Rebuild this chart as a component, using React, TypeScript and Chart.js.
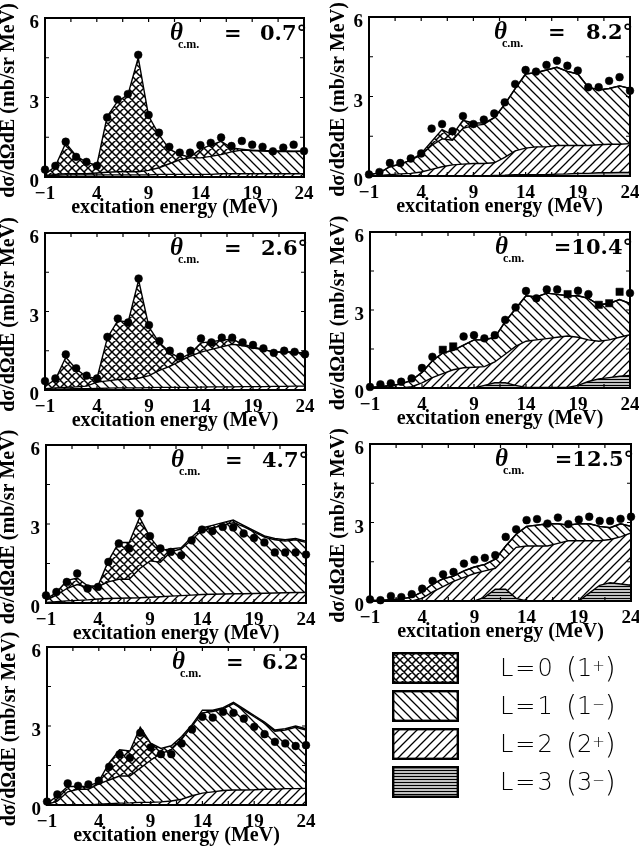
import React, { useEffect, useRef } from "react";
import { Chart, registerables } from "chart.js";
Chart.register(...registerables);

const PAGE_W = 639;
const PAGE_H = 850;

// excitation energies (MeV) of every point / curve vertex
const energies = [-1, 0, 1, 2, 3, 4, 5, 6, 7, 8, 9, 10, 11, 12, 13, 14, 15, 16, 17, 18, 19, 20, 21, 22, 23, 24];
const xTickLabels = [-1, 4, 9, 14, 19, 24];
const xTickMarks = [-1, 1.5, 4, 6.5, 9, 11.5, 14, 16.5, 19, 21.5, 24];
const yTickLabels = [0, 3, 6];
const yTickMarks = [1.5, 3, 4.5];

// ---- theta = 0.7 deg ----
const points07 = [0.28, 0.42, 1.33, 0.76, 0.57, 0.42, 2.25, 2.93, 3.13, 4.61, 2.34, 1.67, 1.14, 0.92, 0.92, 1.2, 1.29, 1.49, 1.17, 1.36, 1.22, 1.14, 0.97, 1.11, 1.22, 0.98];
const total07 = [0.1, 0.4, 1.28, 0.8, 0.55, 0.45, 2.28, 2.85, 3.1, 4.5, 2.3, 1.6, 1.05, 0.85, 0.75, 1.05, 1.2, 1.35, 1.1, 1.05, 1.0, 1.0, 0.98, 0.98, 0.97, 0.97];
const l1Top07 = [0.05, 0.1, 0.12, 0.12, 0.12, 0.15, 0.18, 0.2, 0.2, 0.2, 0.25, 0.35, 0.5, 0.65, 0.72, 0.72, 0.78, 0.85, 0.95, 1.02, 1.0, 0.98, 0.96, 0.96, 0.96, 0.97];
const l2Top07 = [0.03, 0.06, 0.08, 0.08, 0.08, 0.08, 0.08, 0.08, 0.08, 0.08, 0.08, 0.1, 0.1, 0.1, 0.1, 0.1, 0.1, 0.12, 0.12, 0.12, 0.12, 0.12, 0.12, 0.12, 0.12, 0.12];
const l3Top07 = [0, 0, 0, 0, 0, 0, 0, 0, 0, 0, 0, 0, 0, 0, 0, 0, 0, 0, 0, 0, 0, 0, 0, 0, 0, 0];

// ---- theta = 8.2 deg ----
const points82 = [0.06, 0.15, 0.49, 0.49, 0.66, 0.85, 1.79, 1.96, 1.69, 2.26, 1.96, 2.13, 2.36, 2.78, 3.47, 4.0, 3.94, 4.19, 4.35, 4.16, 3.98, 3.35, 3.35, 3.59, 3.73, 3.22];
const total82 = [0.05, 0.12, 0.35, 0.45, 0.6, 0.85, 1.3, 1.75, 1.55, 2.1, 2.0, 2.0, 2.2, 2.7, 3.3, 3.85, 3.9, 4.0, 4.1, 3.95, 3.85, 3.35, 3.25, 3.3, 3.4, 3.3];
const l1Top82 = [0.05, 0.12, 0.35, 0.45, 0.6, 0.8, 1.15, 1.4, 1.35, 1.8, 1.9, 1.95, 2.2, 2.7, 3.3, 3.85, 3.9, 4.0, 4.1, 3.95, 3.85, 3.35, 3.25, 3.3, 3.4, 3.3];
const l2Top82 = [0.0, 0.02, 0.05, 0.08, 0.1, 0.15, 0.25, 0.35, 0.42, 0.45, 0.47, 0.47, 0.5, 0.7, 0.95, 1.05, 1.1, 1.1, 1.15, 1.15, 1.15, 1.15, 1.18, 1.2, 1.2, 1.22];
const l3Top82 = [0, 0, 0, 0, 0, 0, 0, 0, 0, 0, 0, 0, 0.02, 0.03, 0.05, 0.05, 0.05, 0.05, 0.07, 0.08, 0.1, 0.1, 0.12, 0.12, 0.13, 0.13];

// ---- theta = 2.6 deg ----
const points26 = [0.34, 0.44, 1.36, 0.83, 0.55, 0.44, 2.03, 2.73, 2.58, 4.26, 2.48, 1.87, 1.5, 1.27, 1.5, 1.97, 1.82, 2.0, 2.0, 1.82, 1.72, 1.59, 1.42, 1.5, 1.46, 1.37];
const total26 = [0.15, 0.4, 1.25, 0.8, 0.5, 0.45, 2.0, 2.65, 2.6, 4.2, 2.4, 1.8, 1.45, 1.2, 1.4, 1.8, 1.85, 1.9, 1.95, 1.75, 1.65, 1.55, 1.45, 1.45, 1.45, 1.4];
const l1Top26 = [0.05, 0.08, 0.1, 0.12, 0.15, 0.3, 0.35, 0.4, 0.4, 0.45, 0.55, 0.75, 0.9, 1.1, 1.3, 1.45, 1.55, 1.65, 1.75, 1.7, 1.6, 1.55, 1.45, 1.45, 1.45, 1.4];
const l2Top26 = [0.02, 0.03, 0.04, 0.05, 0.05, 0.06, 0.07, 0.08, 0.08, 0.08, 0.09, 0.1, 0.1, 0.1, 0.1, 0.11, 0.12, 0.12, 0.12, 0.13, 0.13, 0.13, 0.14, 0.14, 0.15, 0.15];
const l3Top26 = [0, 0, 0, 0, 0, 0, 0, 0, 0, 0, 0, 0, 0, 0, 0, 0, 0, 0, 0, 0, 0, 0, 0, 0, 0, 0];

// ---- theta = 10.4 deg ----
const points104 = [0.04, 0.14, 0.18, 0.24, 0.37, 0.77, 1.2, 1.47, 1.6, 1.98, 2.03, 1.91, 2.03, 2.62, 3.1, 3.73, 3.45, 3.79, 3.79, 3.61, 3.74, 3.61, 3.2, 3.26, 3.7, 3.65];
const markers104 = ["c", "c", "c", "c", "c", "c", "c", "s", "s", "c", "c", "c", "c", "c", "c", "c", "c", "c", "c", "s", "c", "c", "s", "s", "s", "c"];
const total104 = [0.02, 0.05, 0.1, 0.15, 0.3, 0.6, 1.05, 1.35, 1.45, 1.65, 1.85, 1.85, 1.95, 2.55, 3.05, 3.55, 3.5, 3.65, 3.6, 3.55, 3.55, 3.45, 3.2, 3.25, 3.4, 3.25];
const l1Top104 = [0.02, 0.05, 0.1, 0.15, 0.3, 0.6, 1.05, 1.35, 1.45, 1.65, 1.85, 1.85, 1.95, 2.55, 3.05, 3.55, 3.5, 3.65, 3.6, 3.55, 3.55, 3.45, 3.2, 3.25, 3.4, 3.25];
const l2Top104 = [0, 0, 0, 0, 0.05, 0.2, 0.4, 0.55, 0.7, 0.78, 0.8, 0.82, 1.0, 1.3, 1.6, 1.8, 1.85, 1.9, 1.95, 2.0, 1.95, 1.85, 1.8, 1.85, 1.95, 2.05];
const l3Top104 = [0, 0, 0, 0, 0, 0, 0, 0, 0, 0, 0, 0.1, 0.2, 0.2, 0.1, 0.02, 0.02, 0.02, 0.02, 0.02, 0.1, 0.25, 0.35, 0.4, 0.45, 0.48];

// ---- theta = 4.7 deg ----
const points47 = [0.29, 0.42, 0.8, 1.12, 0.55, 0.61, 1.56, 2.26, 2.07, 3.4, 2.54, 2.07, 1.94, 1.81, 2.38, 2.79, 2.73, 2.89, 2.87, 2.64, 2.47, 2.3, 1.92, 1.92, 1.92, 1.84];
const total47 = [0.15, 0.4, 0.85, 0.95, 0.65, 0.65, 1.6, 2.3, 2.3, 3.25, 2.5, 2.0, 2.05, 2.1, 2.5, 2.85, 2.95, 3.05, 3.15, 2.95, 2.75, 2.55, 2.45, 2.4, 2.45, 2.35];
const l1Top47 = [0.1, 0.3, 0.55, 0.7, 0.6, 0.62, 0.8, 0.9, 0.9, 1.3, 1.6, 1.55, 1.95, 2.05, 2.4, 2.75, 2.85, 2.95, 3.05, 2.9, 2.7, 2.5, 2.4, 2.35, 2.4, 2.3];
const l2Top47 = [0.02, 0.05, 0.08, 0.1, 0.12, 0.15, 0.17, 0.18, 0.19, 0.2, 0.22, 0.24, 0.26, 0.28, 0.3, 0.32, 0.33, 0.34, 0.35, 0.35, 0.36, 0.37, 0.38, 0.39, 0.4, 0.4];
const l3Top47 = [0, 0, 0, 0, 0, 0, 0, 0, 0, 0, 0, 0, 0, 0, 0, 0, 0, 0, 0, 0, 0, 0, 0, 0, 0, 0];

// ---- theta = 12.5 deg ----
const points125 = [0.06, 0.03, 0.19, 0.15, 0.26, 0.47, 0.77, 1.02, 1.11, 1.43, 1.58, 1.65, 1.75, 2.45, 2.74, 3.09, 3.13, 2.96, 3.19, 2.94, 3.11, 3.22, 3.06, 3.06, 3.14, 3.22];
const total125 = [0.02, 0.02, 0.05, 0.08, 0.15, 0.35, 0.65, 0.85, 0.95, 1.15, 1.3, 1.4, 1.6, 2.1, 2.55, 2.85, 2.9, 2.95, 2.95, 2.9, 2.95, 2.95, 2.85, 2.8, 2.95, 2.85];
const l1Top125 = [0.02, 0.02, 0.05, 0.08, 0.15, 0.35, 0.65, 0.85, 0.95, 1.15, 1.3, 1.4, 1.6, 2.1, 2.55, 2.85, 2.9, 2.95, 2.95, 2.9, 2.95, 2.95, 2.85, 2.8, 2.95, 2.85];
const l2Top125 = [0, 0, 0, 0, 0, 0.1, 0.35, 0.55, 0.75, 0.9, 1.05, 1.15, 1.25, 1.65, 2.05, 2.1, 2.1, 2.1, 2.2, 2.3, 2.3, 2.3, 2.3, 2.35, 2.45, 2.6];
const l3Top125 = [0, 0, 0, 0, 0, 0, 0, 0, 0, 0, 0, 0.15, 0.45, 0.45, 0.1, 0, 0, 0, 0, 0, 0, 0.3, 0.6, 0.7, 0.65, 0.6];

// ---- theta = 6.2 deg ----
const points62 = [0.13, 0.4, 0.82, 0.73, 0.78, 0.92, 1.45, 1.92, 1.79, 2.74, 2.19, 1.93, 1.93, 2.34, 2.87, 3.35, 3.32, 3.54, 3.5, 3.28, 2.97, 2.69, 2.4, 2.34, 2.24, 2.27];
const total62 = [0.05, 0.35, 0.7, 0.7, 0.7, 0.9, 1.6, 2.1, 2.05, 2.95, 2.35, 2.15, 2.25, 2.6, 3.05, 3.6, 3.6, 3.7, 3.9, 3.65, 3.4, 3.15, 2.85, 2.9, 3.0, 2.9];
const l1Top62 = [0.02, 0.15, 0.5, 0.6, 0.6, 0.8, 0.95, 1.1, 1.1, 1.4, 1.7, 1.95, 2.1, 2.5, 3.0, 3.5, 3.55, 3.65, 3.85, 3.6, 3.35, 3.1, 2.8, 2.85, 2.95, 2.85];
const l2Top62 = [0, 0, 0, 0, 0, 0.03, 0.05, 0.07, 0.08, 0.1, 0.1, 0.12, 0.15, 0.22, 0.35, 0.45, 0.5, 0.55, 0.57, 0.57, 0.58, 0.6, 0.6, 0.62, 0.62, 0.63];
const l3Top62 = [0, 0, 0, 0, 0, 0, 0, 0, 0, 0, 0, 0, 0, 0, 0, 0, 0, 0, 0, 0, 0, 0, 0, 0, 0, 0];

// legend
const legendL = ["L=0", "L=1", "L=2", "L=3"];
const legendJ = ["1", "1", "2", "3"];
const legendParity = ["+", "−", "+", "−"];
const legendKinds = ["cross", "back", "fwd", "horiz"];

interface PanelDef {
  angle: string;
  box: [number, number, number, number]; // left, top, right, bottom of plot area
  titleX: number;
  points: number[];
  markers?: string[];
  l3: number[];
  l2: number[];
  l1: number[];
  total: number[];
}

const panels: PanelDef[] = [
  { angle: "0.7", box: [45, 18, 304, 177], titleX: 9, points: points07, l3: l3Top07, l2: l2Top07, l1: l1Top07, total: total07 },
  { angle: "8.2", box: [369, 17, 630, 176], titleX: 339, points: points82, l3: l3Top82, l2: l2Top82, l1: l1Top82, total: total82 },
  { angle: "2.6", box: [45, 233, 305, 390], titleX: 9, points: points26, l3: l3Top26, l2: l2Top26, l1: l1Top26, total: total26 },
  { angle: "10.4", box: [370, 232, 630, 388], titleX: 339, points: points104, markers: markers104, l3: l3Top104, l2: l2Top104, l1: l1Top104, total: total104 },
  { angle: "4.7", box: [46, 445, 306, 603], titleX: 9, points: points47, l3: l3Top47, l2: l2Top47, l1: l1Top47, total: total47 },
  { angle: "12.5", box: [370, 444, 631, 601], titleX: 339, points: points125, l3: l3Top125, l2: l2Top125, l1: l1Top125, total: total125 },
  { angle: "6.2", box: [47, 647, 306, 805], titleX: 10, points: points62, l3: l3Top62, l2: l2Top62, l1: l1Top62, total: total62 },
];

function makeTile(kind: string): HTMLCanvasElement {
  const s = kind === "cross" ? 8 : kind === "horiz" ? 3 : 9;
  const c = document.createElement("canvas");
  c.width = s;
  c.height = s;
  const g = c.getContext("2d")!;
  g.strokeStyle = "#000";
  g.lineWidth = kind === "horiz" ? 1.5 : kind === "cross" ? 1.5 : 1.3;
  g.beginPath();
  if (kind === "back" || kind === "cross") {
    g.moveTo(-1, -1); g.lineTo(s + 1, s + 1);
    g.moveTo(-2, s - 2); g.lineTo(2, s + 2);
    g.moveTo(s - 2, -2); g.lineTo(s + 2, 2);
  }
  if (kind === "fwd" || kind === "cross") {
    g.moveTo(-1, s + 1); g.lineTo(s + 1, -1);
    g.moveTo(-2, 2); g.lineTo(2, -2);
    g.moveTo(s - 2, s + 2); g.lineTo(s + 2, s - 2);
  }
  if (kind === "horiz") {
    g.moveTo(0, 1.5); g.lineTo(s, 1.5);
  }
  g.stroke();
  return c;
}

function pattern(ctx: CanvasRenderingContext2D, kind: string): CanvasPattern {
  return ctx.createPattern(makeTile(kind), "repeat")!;
}

const fmtTick = (v: number) => (v < 0 ? "−" + Math.abs(v) : String(v));

const decorPlugin = {
  id: "decor",
  afterDatasetsDraw(chart: any, _args: any, opts: any) {
    const { ctx, chartArea: a, scales } = chart;
    const xs = scales.x;
    const ys = scales.y;
    ctx.save();
    ctx.strokeStyle = "#000";
    ctx.lineWidth = 2;
    ctx.strokeRect(a.left, a.top, a.right - a.left, a.bottom - a.top);
    ctx.lineWidth = 1.2;
    ctx.beginPath();
    for (const v of xTickMarks) {
      const px = xs.getPixelForValue(v);
      ctx.moveTo(px, a.bottom); ctx.lineTo(px, a.bottom - 4);
      ctx.moveTo(px, a.top); ctx.lineTo(px, a.top + 4);
    }
    for (const v of yTickMarks) {
      const py = ys.getPixelForValue(v);
      ctx.moveTo(a.left, py); ctx.lineTo(a.left + 4, py);
      ctx.moveTo(a.right, py); ctx.lineTo(a.right - 4, py);
    }
    ctx.stroke();

    ctx.fillStyle = "#000";
    ctx.font = "bold 19px 'Liberation Serif'";
    ctx.textBaseline = "alphabetic";
    ctx.textAlign = "center";
    for (const v of xTickLabels) ctx.fillText(fmtTick(v), xs.getPixelForValue(v), a.bottom + 22);
    ctx.textAlign = "right";
    for (const v of yTickLabels) ctx.fillText(String(v), a.left - 6, ys.getPixelForValue(v) + 10);

    ctx.font = "bold 20px 'Liberation Serif'";
    ctx.textAlign = "center";
    ctx.fillText("excitation energy (MeV)", (a.left + a.right) / 2, a.bottom + 36);

    ctx.save();
    ctx.translate(opts.titleX, (a.top + a.bottom) / 2 + 3);
    ctx.rotate(-Math.PI / 2);
    ctx.textBaseline = "middle";
    ctx.fillText("dσ/dΩdE (mb/sr MeV)", 0, 0);
    ctx.restore();

    // theta label
    const lx = a.left + 125;
    const base = a.top + 22;
    ctx.textAlign = "left";
    ctx.font = "italic bold 25px 'Liberation Serif'";
    ctx.fillText("θ", lx, base);
    ctx.font = "bold 12px 'Liberation Serif'";
    ctx.fillText("c.m.", lx + 8, base + 8);
    ctx.font = "bold 21px 'DejaVu Serif'";
    if (opts.angle.length > 3) {
      ctx.textAlign = "right";
      ctx.fillText("=" + opts.angle + "°", a.right + 3, base);
    } else {
      ctx.textAlign = "left";
      ctx.fillText("=", a.left + 179, base);
      ctx.textAlign = "right";
      ctx.fillText(opts.angle + "°", a.right + 3, base);
    }
    ctx.restore();
  },
};

function xy(vals: number[]) {
  return vals.map((v, i) => ({ x: energies[i], y: v }));
}

function PanelChart({ p }: { p: PanelDef }) {
  const ref = useRef<HTMLCanvasElement>(null);
  useEffect(() => {
    const canvas = ref.current!;
    const ctx = canvas.getContext("2d")!;
    const line = (vals: number[], fill: any, kind: string) => ({
      data: xy(vals),
      fill,
      backgroundColor: pattern(ctx, kind),
      borderColor: "#000",
      borderWidth: 1.4,
      pointRadius: 0,
      tension: 0,
    });
    const styles = p.points.map((_, i) => (p.markers && p.markers[i] === "s" ? "rect" : "circle"));
    const radii = p.points.map((_, i) => (p.markers && p.markers[i] === "s" ? 5.2 : 3.9));
    const [L, T, R, B] = p.box;
    const chart = new Chart(canvas, {
      type: "line",
      data: {
        datasets: [
          line(p.l3, "origin", "horiz"),
          line(p.l2, "-1", "fwd"),
          line(p.l1, "-1", "back"),
          line(p.total, "-1", "cross"),
          {
            data: xy(p.points),
            showLine: false,
            pointStyle: styles as any,
            pointRadius: radii,
            pointBackgroundColor: "#000",
            pointBorderColor: "#000",
            pointBorderWidth: 0.5,
            clip: false as any,
            order: -1,
          } as any,
        ],
      },
      options: {
        responsive: false,
        animation: false,
        events: [],
        layout: { padding: { left: L, top: T, right: PAGE_W - R, bottom: PAGE_H - B } },
        scales: {
          x: { type: "linear", min: -1, max: 24, display: false },
          y: { type: "linear", min: 0, max: 6, display: false },
        },
        plugins: {
          legend: { display: false },
          tooltip: { enabled: false },
          decor: { titleX: p.titleX, angle: p.angle },
        } as any,
      },
      plugins: [decorPlugin],
    });
    return () => chart.destroy();
  }, [p]);
  return (
    <canvas
      ref={ref}
      width={PAGE_W}
      height={PAGE_H}
      style={{ position: "absolute", left: 0, top: 0, width: PAGE_W, height: PAGE_H }}
    />
  );
}

function LegendSwatch({ kind, top }: { kind: string; top: number }) {
  const ref = useRef<HTMLCanvasElement>(null);
  useEffect(() => {
    const c = ref.current!;
    const g = c.getContext("2d")!;
    g.clearRect(0, 0, c.width, c.height);
    g.fillStyle = pattern(g, kind);
    g.fillRect(0, 0, c.width, c.height);
    g.strokeStyle = "#000";
    g.lineWidth = 2.4;
    g.strokeRect(1.2, 1.2, c.width - 2.4, c.height - 2.4);
  }, [kind]);
  return <canvas ref={ref} width={67} height={32} style={{ position: "absolute", left: 392, top }} />;
}

const legendTops = [652, 690, 728, 766];

export default function App() {
  return (
    <div style={{ position: "absolute", left: 0, top: 0, width: PAGE_W, height: PAGE_H, background: "#fff", overflow: "hidden" }}>
      {panels.map((p) => (
        <PanelChart key={p.angle} p={p} />
      ))}
      {legendKinds.map((k, i) => (
        <React.Fragment key={k}>
          <LegendSwatch kind={k} top={legendTops[i]} />
          <div
            style={{
              position: "absolute",
              left: 500,
              top: legendTops[i] - 4,
              height: 40,
              display: "flex",
              alignItems: "center",
              fontFamily: "'DejaVu Sans', sans-serif",
              fontWeight: 200,
              fontSize: 24,
              color: "#000",
              whiteSpace: "nowrap",
            }}
          >
            <span style={{ letterSpacing: 2, width: 66, display: "inline-block" }}>{legendL[i]}</span>
            <span style={{ fontSize: 28 }}>(</span>
            <span>{legendJ[i]}</span>
            <sup style={{ fontSize: 15, position: "relative", top: -2 }}>{legendParity[i]}</sup>
            <span style={{ fontSize: 28 }}>)</span>
          </div>
        </React.Fragment>
      ))}
    </div>
  );
}
